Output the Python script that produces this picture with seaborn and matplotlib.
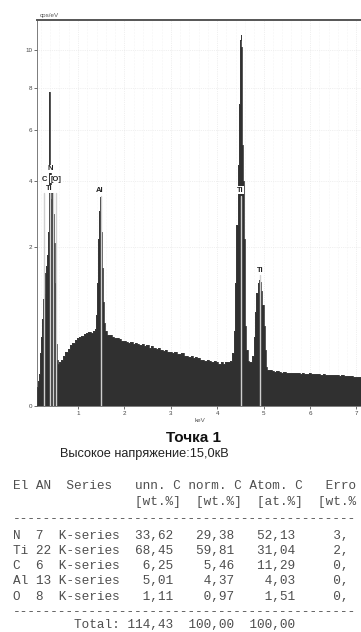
import numpy as np
import matplotlib
matplotlib.use("Agg")
import matplotlib.pyplot as plt
import seaborn as sns

# спектр: энергия (кэВ) и интенсивность (cps/eV)
energy = [
    0.10, 0.12, 0.14, 0.16, 0.18, 0.20, 0.22, 0.24, 0.26, 0.27, 0.28, 0.29, 0.30, 0.32, 0.34,
    0.36, 0.37, 0.38, 0.39, 0.40, 0.41, 0.42, 0.43, 0.44, 0.45, 0.46, 0.47, 0.48, 0.49, 0.50,
    0.51, 0.52, 0.53, 0.54, 0.55, 0.57,
    0.60, 0.65, 0.70, 0.75, 0.80, 0.85, 0.90, 0.95, 1.00, 1.05, 1.10, 1.15, 1.20, 1.25, 1.30, 1.35,
    1.38, 1.41, 1.43, 1.45, 1.46, 1.47, 1.48, 1.49, 1.50, 1.52, 1.54, 1.57, 1.60,
    1.65, 1.70, 1.75, 1.80, 1.85, 1.90, 1.95, 2.00, 2.05, 2.10, 2.15, 2.20, 2.25, 2.30, 2.35,
    2.40, 2.45, 2.50, 2.55, 2.60, 2.65, 2.70, 2.75, 2.80, 2.85, 2.90, 2.95, 3.00, 3.05, 3.10,
    3.15, 3.20, 3.25, 3.30, 3.35, 3.40, 3.45, 3.50, 3.55, 3.60, 3.65, 3.70, 3.75, 3.80, 3.85,
    3.90, 3.95, 4.00, 4.05, 4.10, 4.15, 4.20, 4.25, 4.30,
    4.34, 4.37, 4.40, 4.43, 4.46, 4.48, 4.49, 4.50, 4.51, 4.52, 4.53, 4.54, 4.55, 4.56, 4.58,
    4.60, 4.62, 4.64, 4.67, 4.70, 4.74, 4.77, 4.80, 4.83, 4.86, 4.89, 4.91, 4.93, 4.96, 4.99,
    5.01, 5.03, 5.06, 5.10,
    5.15, 5.20, 5.25, 5.30, 5.35, 5.40, 5.45, 5.50, 5.55, 5.60, 5.65, 5.70, 5.75, 5.80, 5.85,
    5.90, 5.95, 6.00, 6.05, 6.10, 6.15, 6.20, 6.25, 6.30, 6.35, 6.40, 6.45, 6.50, 6.55, 6.60,
    6.65, 6.70, 6.75, 6.80, 6.85, 6.90, 6.95, 7.00, 7.05, 7.10, 7.15,
]
cps = [
    0.00, 0.03, 0.05, 0.08, 0.12, 0.22, 0.38, 0.60, 0.90, 1.05, 1.00, 1.25, 1.40, 1.55, 1.80,
    2.40, 3.30, 5.80, 7.80, 6.50, 4.60, 3.70, 3.40, 3.50, 3.60, 3.30, 2.90, 2.50, 2.10, 1.70,
    1.20, 0.90, 0.60, 0.30, 0.17, 0.14,
    0.15, 0.17, 0.20, 0.23, 0.26, 0.29, 0.31, 0.34, 0.36, 0.38, 0.39, 0.41, 0.42, 0.43, 0.42, 0.44,
    0.47, 0.65, 1.20, 2.20, 3.00, 3.45, 3.40, 3.00, 2.40, 1.50, 0.85, 0.55, 0.45,
    0.40, 0.40, 0.38, 0.37, 0.36, 0.35, 0.33, 0.33, 0.32, 0.31, 0.32, 0.30, 0.31, 0.30, 0.29,
    0.30, 0.28, 0.29, 0.27, 0.28, 0.27, 0.26, 0.27, 0.25, 0.24, 0.25, 0.23, 0.23, 0.22, 0.23,
    0.21, 0.21, 0.22, 0.20, 0.20, 0.19, 0.20, 0.18, 0.19, 0.18, 0.17, 0.17, 0.16, 0.17, 0.16,
    0.15, 0.16, 0.15, 0.14, 0.15, 0.14, 0.15, 0.15, 0.16,
    0.22, 0.45, 1.20, 2.60, 4.60, 7.20, 9.00, 10.60, 10.90, 10.20, 8.50, 7.00, 5.40, 4.00, 2.20,
    1.00, 0.50, 0.25, 0.16, 0.15, 0.15, 0.20, 0.38, 0.70, 1.00, 1.20, 1.25, 1.22, 1.05, 0.80,
    0.50, 0.25, 0.12, 0.10,
    0.100, 0.095, 0.090, 0.095, 0.090, 0.088, 0.090, 0.086, 0.088, 0.085, 0.087, 0.084, 0.086, 0.082, 0.085,
    0.083, 0.081, 0.084, 0.080, 0.082, 0.079, 0.081, 0.078, 0.080, 0.077, 0.078, 0.075, 0.077, 0.074, 0.075,
    0.072, 0.074, 0.071, 0.072, 0.069, 0.070, 0.067, 0.068, 0.066, 0.067, 0.065,
]

# линии элементов
line_energy = [0.277, 0.392, 0.452, 0.525, 1.486, 4.508, 4.931]
line_top = [3.6, 3.6, 3.6, 3.6, 3.5, 3.5, 1.35]

peak_labels = ["N", "C", "[O]", "Ti", "Al", "Ti", "Ti"]
label_x = [0.40, 0.285, 0.53, 0.38, 1.475, 4.49, 4.92]
label_y = [4.45, 4.07, 4.07, 3.72, 3.68, 3.68, 1.44]

y_ticks = [0, 2, 4, 6, 8, 10]
x_ticks = [1, 2, 3, 4, 5, 6, 7]

# таблица количественного анализа
table_header = "El AN  Series   unn. C norm. C Atom. C   Erro"
table_units = "                [wt.%]  [wt.%]  [at.%]  [wt.%"
elements = ["N", "Ti", "C", "Al", "O"]
atomic_no = [7, 22, 6, 13, 8]
series = ["K-series"] * 5
unn_c = ["33,62", "68,45", "6,25", "5,01", "1,11"]
norm_c = ["29,38", "59,81", "5,46", "4,37", "0,97"]
atom_c = ["52,13", "31,04", "11,29", "4,03", "1,51"]
error_c = ["3,", "2,", "0,", "0,", "0,"]
totals = ["114,43", "100,00", "100,00"]

W, H = 361, 632
sns.set_style("white")
plt.rcParams["font.family"] = ["Liberation Sans", "DejaVu Sans"]

fig = plt.figure(figsize=(W / 100, H / 100), dpi=100)
ax = fig.add_axes([37 / W, 1 - 406 / H, 1 - 37 / W, (406 - 20) / H])

ax.set_yscale("function", functions=(lambda v: np.sqrt(np.clip(v, 0, None)), lambda v: np.square(v)))

ax.fill_between(energy, 0, cps, step="mid", color="#303030", lw=0, zorder=2)
sns.lineplot(x=energy, y=cps, ax=ax, color="#3a3a3a", lw=0.6, drawstyle="steps-mid",
             estimator=None, zorder=3)

for e, t in zip(line_energy, line_top):
    ax.plot([e, e], [0, t], color="#cfcfcf", lw=1.0, zorder=4)

for lab, lx, ly in zip(peak_labels, label_x, label_y):
    ax.text(lx, ly, lab, ha="center", va="center", fontsize=5.5, fontweight="bold",
            color="#222222", zorder=5,
            bbox=dict(facecolor="white", edgecolor="none", pad=0.4))

ax.set_xlim(0.116, 7.1)
ax.set_ylim(0, 11.77)
ax.set_xticks(x_ticks)
ax.set_xticks(np.arange(0.2, 7.1, 0.2), minor=True)
ax.set_yticks(y_ticks)
ax.set_yticks(np.arange(0.5, 11.6, 0.5), minor=True)
ax.tick_params(axis="both", which="major", direction="out", length=2, width=0.6,
               labelsize=4.5, labelcolor="#444444", color="#555555", pad=1.5)
ax.tick_params(axis="both", which="minor", direction="out", length=1.2, width=0.5, color="#777777")
ax.tick_params(axis="x", bottom=True)
ax.tick_params(axis="y", left=True)

ax.grid(True, which="major", color="#e2e2e2", lw=0.5, ls=":")
ax.grid(True, which="minor", axis="x", color="#ececec", lw=0.4, ls=":")
ax.set_axisbelow(True)

ax.spines["right"].set_visible(False)
ax.spines["top"].set_color("#555555")
ax.spines["top"].set_linewidth(1.4)
ax.spines["left"].set_color("#666666")
ax.spines["left"].set_linewidth(0.6)
ax.spines["bottom"].set_color("#666666")
ax.spines["bottom"].set_linewidth(0.6)

ax.set_xlabel("")
ax.set_ylabel("")
fig.text(40 / W, 1 - 15 / H, "cps/eV", fontsize=4.5, color="#555555", ha="left", va="center")
fig.text(200 / W, 1 - 420 / H, "keV", fontsize=4.5, color="#555555", ha="center", va="center")

fig.text(194 / W, 1 - 438 / H, "Точка 1", fontsize=11, fontweight="bold", color="#111111",
         ha="center", va="center")
fig.text(60 / W, 1 - 454 / H, "Высокое напряжение:15,0кВ", fontsize=9.2, color="#222222",
         ha="left", va="center")

rows = []
for el, an, se, u, n, a, er in zip(elements, atomic_no, series, unn_c, norm_c, atom_c, error_c):
    rows.append(f"{el:<2} {an:<2} {se} {u:>6}  {n:>6}  {a:>6}  {er:>5}")
dash = "-" * 45
total_line = f"        Total: {totals[0]:>6}  {totals[1]:>6}  {totals[2]:>6}"

lines = [table_header, table_units, dash] + rows + [dash, total_line]
ys = [486, 502, 519, 536, 551, 566, 581, 597, 612, 625]
for txt, yy in zip(lines, ys):
    fig.text(13 / W, 1 - yy / H, txt, family="Liberation Mono", fontsize=9.2,
             color="#4e4e4e", ha="left", va="center")

fig.savefig("out.png", dpi=100)
